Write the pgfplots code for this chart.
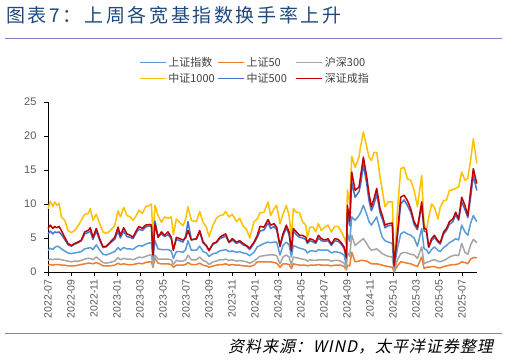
\documentclass[border=0pt]{standalone}
\usepackage{fontspec}
\usepackage{pgfplots}
\usepackage{pgfplotstable}
\pgfplotsset{compat=1.18}
\setmainfont{Liberation Sans}
\newfontfamily\cjk{Noto Sans CJK SC}
\newfontfamily\cjktitle[LetterSpace=14]{Noto Sans CJK SC}
\newfontfamily\cjksrc[FakeSlant=0.22,LetterSpace=6]{Noto Sans CJK SC}
\definecolor{cSH}{HTML}{5B9BD5}
\definecolor{cFifty}{HTML}{ED7D31}
\definecolor{cHS}{HTML}{A5A5A5}
\definecolor{cThousand}{HTML}{FFC000}
\definecolor{cFive}{HTML}{4472C4}
\definecolor{cSZ}{HTML}{C00000}
\definecolor{titleblue}{HTML}{1F497D}
\definecolor{rulecol}{HTML}{8080C0}
\definecolor{ticktext}{HTML}{595959}
\definecolor{legtext}{HTML}{404040}

\pgfplotstableread{
m sh sz50 hs300 zz1000 zz500 szcz
0.00 3.2 1.0 1.7 9.3 5.6 6.4
0.20 3.5 1.1 1.9 10.4 6.0 6.9
0.43 3.3 1.0 1.8 9.6 5.6 6.4
0.58 3.6 1.1 1.9 10.3 5.9 6.7
0.78 3.8 1.1 1.9 9.8 5.8 6.5
0.96 3.7 1.1 1.9 10.1 5.9 6.7
1.16 3.4 1.0 1.8 8.1 5.5 6.1
1.45 3.1 1.0 1.7 7.6 4.8 5.1
1.74 2.8 0.9 1.6 6.1 4.0 4.2
2.03 2.7 0.9 1.5 5.8 3.8 3.9
2.32 2.8 0.9 1.6 6.1 4.1 4.2
2.61 2.9 1.0 1.6 6.8 4.3 4.4
2.90 3.0 1.1 1.7 7.6 4.6 4.7
3.19 3.4 1.2 1.9 8.5 5.6 5.9
3.48 3.5 1.3 2.0 8.6 5.8 6.1
3.68 3.6 1.3 2.0 9.3 6.0 6.5
3.91 3.3 1.2 1.8 7.6 4.8 5.1
4.20 4.0 1.4 2.2 8.5 6.0 6.4
4.49 3.2 1.2 1.8 7.1 4.7 4.9
4.78 2.6 0.9 1.4 5.9 3.6 3.7
5.07 2.5 0.9 1.3 5.7 3.7 3.8
5.36 2.7 0.9 1.4 6.0 4.2 4.3
5.80 3.0 1.0 1.6 6.8 4.8 5.1
6.09 3.6 1.3 2.1 9.0 6.0 6.6
6.29 3.2 1.1 1.8 8.1 5.0 5.4
6.58 3.6 1.2 2.0 9.5 6.0 6.5
6.87 3.4 1.1 1.9 8.3 5.2 5.6
7.16 3.4 1.1 1.9 8.1 5.1 5.4
7.39 3.3 1.1 1.8 7.6 4.9 5.1
7.68 3.7 1.2 2.0 8.3 5.8 6.1
7.91 3.9 1.3 2.2 9.1 6.3 6.7
8.20 3.8 1.2 2.1 8.6 6.1 6.4
8.49 4.1 1.4 2.3 9.6 6.6 6.9
8.84 4.3 1.5 2.5 9.8 6.8 7.0
8.99 4.3 1.5 2.5 10.0 6.7 6.9
9.13 1.8 0.7 0.9 5.0 2.6 2.5
9.30 4.6 2.0 2.5 9.8 7.5 7.1
9.57 3.4 1.3 1.9 8.3 5.2 5.1
9.86 3.3 1.2 1.9 7.3 5.6 5.9
10.14 3.3 1.2 1.9 8.1 5.2 5.4
10.43 3.3 1.2 1.9 7.9 5.5 5.9
10.72 3.1 1.1 1.8 8.1 4.9 5.1
10.90 2.0 0.7 1.1 5.5 3.3 3.2
11.16 3.0 1.0 1.7 7.8 4.8 5.1
11.45 3.0 1.0 1.6 7.3 4.6 4.9
11.74 2.9 1.0 1.6 6.8 4.4 4.7
11.97 3.3 1.1 1.8 7.8 5.3 5.0
12.17 4.6 1.4 2.5 9.6 7.4 6.1
12.46 3.2 1.1 1.8 7.6 4.8 4.7
12.90 3.2 1.1 1.8 7.4 4.8 4.9
13.19 3.8 1.3 2.2 8.9 5.9 6.1
13.48 3.0 1.0 1.7 7.3 4.3 4.4
13.77 2.8 0.9 1.5 6.6 3.8 3.9
14.00 2.3 0.7 1.1 5.2 3.1 3.2
14.35 2.7 0.9 1.5 6.9 4.1 4.2
14.64 2.8 1.0 1.6 7.9 4.3 4.4
14.93 3.1 1.1 1.8 8.3 4.9 5.1
15.22 3.2 1.1 1.8 8.4 5.1 5.4
15.45 3.3 1.2 1.9 8.9 5.3 5.6
15.74 3.0 1.0 1.7 8.1 4.3 4.4
16.03 3.1 1.1 1.8 8.5 4.7 4.9
16.38 2.9 1.0 1.6 7.4 4.2 4.4
16.67 3.0 1.0 1.7 7.9 4.4 4.6
16.96 2.8 0.9 1.6 6.8 4.0 4.2
17.25 2.7 0.9 1.5 6.3 3.8 3.9
17.54 2.4 0.8 1.3 5.0 3.3 3.5
17.91 2.9 1.0 1.6 7.4 4.2 4.4
18.20 3.7 1.5 2.0 7.8 5.1 5.4
18.43 3.9 1.5 2.3 8.7 6.0 6.7
18.78 4.2 1.5 2.4 8.8 6.2 6.6
19.13 4.4 1.5 2.5 10.3 7.2 7.7
19.36 4.3 1.5 2.5 8.3 6.4 6.9
19.65 4.4 1.4 2.5 9.3 6.7 7.1
19.88 4.4 1.3 2.4 9.8 6.2 6.6
20.17 2.5 0.7 1.2 7.1 3.7 3.9
20.43 3.9 1.2 2.2 8.5 5.3 5.6
20.72 4.4 1.2 2.5 9.8 6.5 6.9
20.96 4.0 1.1 2.2 8.3 5.5 5.9
21.16 2.2 0.5 1.0 5.1 3.0 3.2
21.33 3.9 1.2 2.2 9.3 6.0 6.4
21.59 3.7 1.1 2.1 8.8 5.5 5.9
21.88 3.5 1.0 2.0 8.7 5.1 5.4
22.12 3.4 1.0 1.9 7.4 5.0 5.4
22.41 3.2 1.0 1.8 6.9 4.8 5.1
22.55 2.8 0.9 1.6 5.1 4.2 4.4
22.78 3.1 1.0 1.8 6.6 4.6 4.9
23.07 3.1 1.0 1.7 6.6 4.4 4.7
23.28 3.0 1.0 1.7 5.9 4.2 4.4
23.51 3.3 1.1 1.8 7.1 5.0 5.4
23.77 3.2 1.0 1.8 6.1 4.6 4.9
24.06 3.2 1.0 1.8 6.6 4.5 4.7
24.35 3.2 1.0 1.8 6.9 4.6 4.9
24.64 2.8 0.9 1.6 5.9 3.9 4.1
24.93 3.0 1.0 1.7 6.7 4.6 4.9
25.22 2.9 1.0 1.7 6.7 4.5 4.8
25.45 2.8 1.0 1.6 6.1 4.2 4.4
25.74 2.5 0.8 1.3 5.1 3.5 3.7
25.94 1.0 0.3 0.5 4.2 2.0 2.2
26.03 5.6 1.0 2.9 12.1 8.6 9.8
26.23 4.5 0.9 2.3 10.0 6.8 7.5
26.41 8.1 2.9 5.4 17.0 13.2 14.7
26.70 7.6 1.5 3.9 15.4 11.0 12.0
27.04 8.3 1.6 4.4 16.9 11.8 12.5
27.19 8.8 1.7 4.6 18.6 13.0 14.2
27.42 9.8 1.7 4.9 20.6 15.8 16.9
27.71 8.5 1.6 4.2 18.4 13.0 14.0
27.91 7.4 1.4 3.6 16.9 10.5 11.5
28.12 6.9 1.2 3.2 16.4 9.0 9.6
28.35 7.5 1.2 3.3 17.6 10.0 10.8
28.58 8.1 1.2 3.4 17.6 11.5 12.3
28.87 6.2 1.1 3.0 14.0 8.7 9.3
29.07 5.1 1.0 2.7 12.0 7.8 8.3
29.30 4.6 0.9 2.5 9.6 6.5 6.9
29.57 4.4 0.8 2.3 10.3 6.8 7.1
29.94 4.2 0.7 2.2 10.3 6.9 7.2
30.09 0.5 0.0 0.1 0.7 0.7 1.0
30.38 3.5 0.9 1.8 9.0 5.2 5.6
30.67 5.6 1.5 2.7 15.2 10.0 11.0
30.96 5.9 1.4 2.9 15.4 10.6 11.3
31.25 5.6 1.3 2.8 13.7 9.8 10.5
31.54 5.4 1.2 2.6 13.5 8.8 9.3
31.83 5.0 1.0 2.5 12.0 7.0 7.4
32.12 3.8 0.8 2.0 9.6 6.2 6.5
32.49 6.4 2.2 3.7 14.2 9.8 10.3
32.70 3.4 0.5 1.2 6.9 6.0 6.4
32.90 3.3 0.7 1.4 6.2 5.9 6.3
33.10 2.7 0.7 1.5 8.0 3.6 3.7
33.35 3.3 0.8 1.7 10.0 4.6 4.9
33.60 3.7 0.8 1.8 9.5 5.1 5.4
33.90 3.2 0.6 1.6 7.8 4.4 4.6
34.10 3.0 0.6 1.5 9.5 4.1 4.3
34.40 3.6 0.8 1.7 10.5 5.6 5.9
34.65 3.9 0.9 1.9 10.6 6.1 6.4
34.90 4.3 1.0 2.2 12.0 7.0 7.4
35.20 4.6 1.1 2.4 12.1 7.4 7.8
35.45 4.9 1.1 2.5 12.3 8.4 8.8
35.70 4.7 1.2 2.4 12.5 7.6 7.8
35.97 6.9 1.5 4.2 14.7 10.3 11.0
36.25 5.9 1.4 2.9 13.5 9.2 9.8
36.50 5.4 1.2 2.6 13.8 8.0 8.3
36.75 7.2 1.9 4.0 16.5 11.0 12.0
36.98 8.3 2.1 4.8 19.6 14.2 15.2
37.28 7.4 2.1 4.3 16.0 12.0 13.0
}\turnover

\begin{document}
\begin{tikzpicture}
\path[use as bounding box] (0,0) rectangle (507bp,360bp);
\node[anchor=west, inner sep=0pt, text=titleblue, font=\cjktitle\fontsize{19bp}{22bp}\selectfont] at (6bp,345bp) {图表7：上周各宽基指数换手率上升};
\draw[rulecol, line width=0.8bp] (5bp,322bp) -- (502bp,322bp);
\draw[rulecol, line width=0.8bp] (5bp,27bp) -- (502bp,27bp);
\node[anchor=east, inner sep=0pt, text=black, font=\cjksrc\fontsize{16bp}{18bp}\selectfont] at (493bp,13bp) {资料来源：WIND，太平洋证券整理};
\begin{axis}[
  scale only axis,
  width=429bp, height=170bp,
  at={(48bp,88bp)}, anchor=south west,
  xmin=0, xmax=37.3, ymin=0, ymax=25,
  axis x line*=bottom, axis y line*=left,
  axis line style={black, line width=0.9bp},
  tick style={black, line width=0.9bp},
  tick align=outside,
  major tick length=4bp,
  xtick={0,2,...,36},
  xticklabels={2022-07,2022-09,2022-11,2023-01,2023-03,2023-05,2023-07,2023-09,2023-11,2024-01,2024-03,2024-05,2024-07,2024-09,2024-11,2025-01,2025-03,2025-05,2025-07},
  xticklabel style={rotate=90, anchor=east, text=ticktext, font=\fontsize{10.5bp}{12bp}\selectfont},
  ytick={0,5,...,25},
  yticklabel style={text=ticktext, font=\fontsize{11bp}{13bp}\selectfont, xshift=-4bp},
  /pgf/number format/assume math mode=true,
  clip=false,
  no markers,
  every axis plot/.append style={line width=1.5bp, line join=round},
  legend columns=3,
  legend image code/.code={\draw[#1, line width=1.3bp] (0bp,0bp) -- (26bp,0bp);},
  legend style={at={(0.4825,1.184)}, anchor=center, draw=none, fill=none,
    text=legtext, font=\cjk\fontsize{11bp}{13bp}\selectfont,
    column sep=0bp, row sep=1.5bp,
    /tikz/every even column/.append style={column sep=3bp}},
]
\addplot[cSH] table[x=m, y=sh] {\turnover};
\addlegendentry{\makebox[44bp][l]{上证指数}}
\addplot[cFifty] table[x=m, y=sz50] {\turnover};
\addlegendentry{\makebox[44bp][l]{上证50}}
\addplot[cHS] table[x=m, y=hs300] {\turnover};
\addlegendentry{\makebox[44bp][l]{沪深300}}
\addplot[cThousand] table[x=m, y=zz1000] {\turnover};
\addlegendentry{\makebox[44bp][l]{中证1000}}
\addplot[cFive] table[x=m, y=zz500] {\turnover};
\addlegendentry{\makebox[44bp][l]{中证500}}
\addplot[cSZ] table[x=m, y=szcz] {\turnover};
\addlegendentry{\makebox[44bp][l]{深证成指}}
\end{axis}
\end{tikzpicture}
\end{document}
